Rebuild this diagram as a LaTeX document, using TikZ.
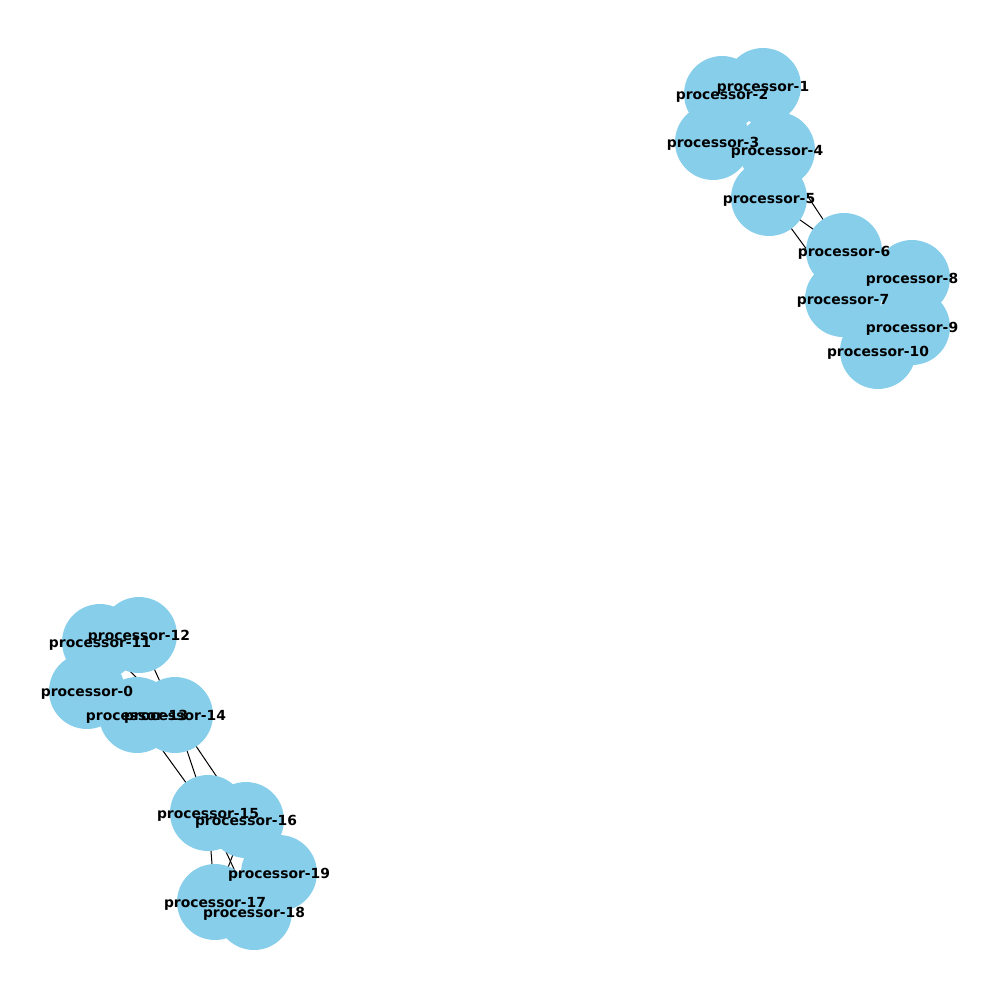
\documentclass[tikz,border=0pt]{standalone}
\usepackage{fontspec}
\setmainfont{DejaVu Sans}
\pgfdeclarelayer{edges}
\pgfdeclarelayer{labels}
\pgfsetlayers{edges,main,labels}
\definecolor{skyblue}{HTML}{87CEEB}
\tikzset{
  proc/.style={circle,fill=skyblue,minimum size=54.7pt,inner sep=0pt},
  plabel/.style={font=\bfseries\fontsize{10}{12}\selectfont,inner sep=0pt,yshift=-1.4pt},
  link/.style={draw=black,line width=0.72pt}
}

\begin{document}
\begin{tikzpicture}[x=0.72pt,y=-0.72pt]
      \useasboundingbox (0,0) rectangle (1000,1000);
      % processors, drawn in list order
      \foreach \n/\px/\py in {0/87/691, 1/763/86, 2/722/94, 3/713/142, 4/777/150,
          5/769/198, 6/844/251, 7/843/299, 8/912/278, 9/912/327, 10/878/351,
          11/100/642, 12/139/635, 13/137/715, 14/175/715, 15/208/813,
          16/246/820, 17/215/902, 18/254/912, 19/279/873} {
        \node[proc] (p\n) at (\px,\py) {};
        \begin{pgfonlayer}{labels}
          \node[plabel] (l\n) at (p\n) {processor-\n};
        \end{pgfonlayer}
      }
      % links
      \begin{pgfonlayer}{edges}
        \foreach \a/\b in {4/6, 5/6, 5/7, 11/14, 12/14, 13/15, 14/15,
            14/16, 15/17, 15/18, 16/17} {
          \draw[link] (p\a.center) -- (p\b.center);
        }
      \end{pgfonlayer}
\end{tikzpicture}
\end{document}
